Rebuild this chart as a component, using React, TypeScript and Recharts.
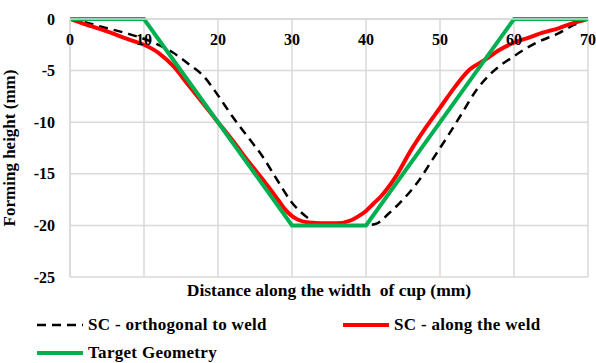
import React from "react";
import { CartesianGrid, Line, LineChart, XAxis, YAxis } from "recharts";

// distance along the width of cup (mm) / forming height (mm)
const orthX = [0, 2, 4.5, 7.7, 11, 13.8, 16.1, 18, 20, 22, 24, 26, 28, 30, 32, 33, 34, 40, 41.5, 43, 45, 47, 49, 51, 53, 55, 57, 60, 63, 66, 68, 70];
const orthY = [0, -0.3, -0.8, -1.4, -2.2, -3.2, -4.4, -5.5, -7.4, -9.5, -11.4, -13.3, -15.6, -17.8, -19.2, -19.7, -20, -20, -19.8, -18.9, -17.5, -15.8, -13.6, -11.4, -9.1, -6.8, -5.2, -3.6, -2.3, -1.4, -0.6, 0];

const weldX = [0, 2, 5, 8, 10, 12, 14, 16, 18, 20, 22, 24, 26, 28, 29, 30, 31, 32, 34, 36, 38, 39, 40, 41, 42, 44, 46, 48, 50, 52, 54, 56, 58, 60, 62, 64, 66, 68, 70];
const weldY = [0, -0.5, -1.2, -2.0, -2.5, -3.3, -4.6, -6.4, -8.2, -10, -11.8, -13.7, -15.5, -17.4, -18.4, -19.1, -19.5, -19.7, -19.8, -19.8, -19.5, -19.1, -18.6, -17.9, -17.2, -15.3, -12.8, -10.6, -8.6, -6.6, -4.9, -4.0, -3.0, -2.3, -1.8, -1.3, -0.9, -0.4, 0];

const targetX = [0, 10, 30, 40, 60, 70];
const targetY = [0, 0, -20, -20, 0, 0];

const xTicks = [0, 10, 20, 30, 40, 50, 60, 70];
const yTicks = [0, -5, -10, -15, -20, -25];

const toPoints = (xs: number[], ys: number[]) => xs.map((x, i) => ({ x, y: ys[i] }));

const orthData = toPoints(orthX, orthY);
const weldData = toPoints(weldX, weldY);
const targetData = toPoints(targetX, targetY);

const font = "'Liberation Serif', 'Times New Roman', serif";
const grid = "#d9d9d9";

const TopTick = (props: any) => {
  const { x, y, payload } = props;
  return (
    <text x={x} y={y} dy={26} textAnchor="middle" fontFamily={font} fontWeight="bold" fontSize={16} fill="#000">
      {payload.value}
    </text>
  );
};

const legendItems = [
  { name: "SC - orthogonal to weld", color: "#000", width: 2.5, dash: "9 6", left: 37, top: 325 },
  { name: "SC - along the weld", color: "#ff0000", width: 4, dash: undefined, left: 343, top: 325 },
  { name: "Target Geometry", color: "#00b050", width: 4, dash: undefined, left: 37, top: 353 },
];

export default function App() {
  return (
    <div style={{ position: "absolute", left: 0, top: 0, width: 596, height: 363, background: "#fff", fontFamily: font }}>
      <LineChart width={596} height={363} margin={{ top: 0, right: 8, bottom: 86, left: 0 }}>
        <CartesianGrid stroke={grid} strokeWidth={1.5} />
        <XAxis
          type="number"
          dataKey="x"
          orientation="top"
          domain={[0, 70]}
          ticks={xTicks}
          height={19}
          axisLine={{ stroke: grid, strokeWidth: 1.5 }}
          tickLine={false}
          tickSize={0}
          tickMargin={0}
          tick={<TopTick />}
          interval={0}
          allowDataOverflow
        />
        <YAxis
          type="number"
          dataKey="y"
          domain={[-25, 0]}
          ticks={yTicks}
          width={70}
          axisLine={{ stroke: grid, strokeWidth: 1.5 }}
          tickLine={false}
          tickSize={0}
          tickMargin={15}
          interval={0}
          tick={{ fontFamily: font, fontWeight: "bold", fontSize: 16, fill: "#000" }}
          label={{
            value: "Forming height (mm)",
            angle: -90,
            position: "insideLeft",
            offset: 9,
            style: { fontFamily: font, fontWeight: "bold", fontSize: 17, fill: "#000", textAnchor: "middle" },
          }}
        />
        <Line data={orthData} dataKey="y" stroke="#000" strokeWidth={2.5} strokeDasharray="9 6" dot={false} type="monotone" isAnimationActive={false} />
        <Line data={weldData} dataKey="y" stroke="#ff0000" strokeWidth={4} dot={false} type="monotone" isAnimationActive={false} />
        <Line data={targetData} dataKey="y" stroke="#00b050" strokeWidth={4} dot={false} type="linear" isAnimationActive={false} />
      </LineChart>
      <div style={{ position: "absolute", left: 70, width: 518, top: 280, textAlign: "center", fontWeight: "bold", fontSize: 17.5 }}>
        Distance along the width&nbsp; of cup (mm)
      </div>
      {legendItems.map((item) => (
        <div key={item.name} style={{ position: "absolute", left: item.left, top: item.top - 11, height: 22, display: "flex", alignItems: "center", fontWeight: "bold", fontSize: 17, letterSpacing: 0.3 }}>
          <svg width={46} height={8} style={{ marginRight: 5 }}>
            <line x1={0} y1={4} x2={46} y2={4} stroke={item.color} strokeWidth={item.width} strokeDasharray={item.dash} />
          </svg>
          {item.name}
        </div>
      ))}
    </div>
  );
}
